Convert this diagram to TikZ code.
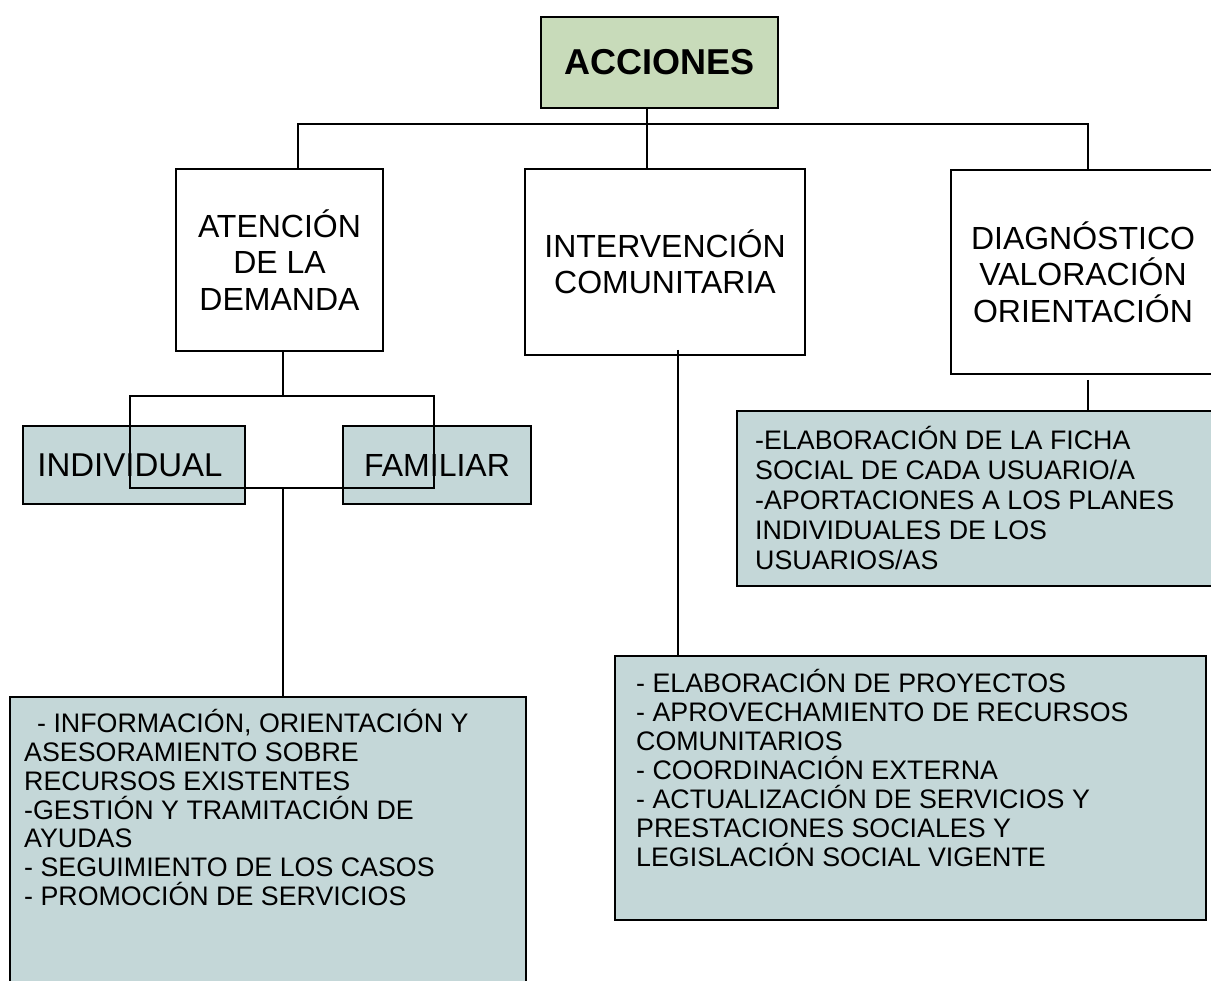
\documentclass[tikz,border=0pt]{standalone}
\usepackage{fontspec}
\setmainfont{Liberation Sans}
\definecolor{accgreen}{RGB}{200,219,186}
\definecolor{boxblue}{RGB}{196,215,216}
\tikzset{
  box/.style={draw=black, line width=1.8pt, inner sep=0pt, outer sep=0pt},
  midtext/.style={font=\fontsize{32}{36.5}\selectfont, align=center},
  listtext/.style={align=left, inner sep=0pt, anchor=north west},
  conn/.style={draw=black, line width=1.6pt}
}
\begin{document}
\begin{tikzpicture}[x=1pt,y=-1pt]
\useasboundingbox (0,0) rectangle (1211,981);
% top
\node[box, fill=accgreen, minimum width=237pt, minimum height=91pt, font=\bfseries\fontsize{36}{40}\selectfont] (acc) at (659.5,62.5) {ACCIONES};
% second level
\node[box, minimum width=207pt, minimum height=182pt, midtext] (aten) at (279.5,260) {ATENCIÓN\\DE LA\\DEMANDA};
\node[box, minimum width=280pt, minimum height=186pt, midtext] (inter) at (665,262) {INTERVENCIÓN\\COMUNITARIA};
\node[box, minimum width=264pt, minimum height=204pt, midtext] (diag) at (1083,272) {DIAGNÓSTICO\\VALORACIÓN\\ORIENTACIÓN};
% third level
\node[box, fill=boxblue, minimum width=222pt, minimum height=78pt, font=\fontsize{33}{37}\selectfont] (indiv) at (134,465) {INDIVIDUAL\kern8pt};
\node[box, fill=boxblue, minimum width=188pt, minimum height=78pt, font=\fontsize{32}{36.5}\selectfont] (fam) at (437,465) {FAMILIAR};
% list boxes
\node[box, fill=boxblue, minimum width=516pt, minimum height=293pt] (bl) at (268,843.5) {};
\node[box, fill=boxblue, minimum width=591pt, minimum height=264pt] (bm) at (910.5,788) {};
\node[box, fill=boxblue, minimum width=479pt, minimum height=175pt] (rb) at (976.5,498.5) {};
% list texts
\node[listtext, font=\fontsize{26.8}{28.7}\selectfont] (bltext) at (24,709.5) {\rule{0pt}{22pt}\hspace*{13pt}- INFORMACIÓN, ORIENTACIÓN Y\\ASESORAMIENTO SOBRE\\RECURSOS EXISTENTES\\-GESTIÓN Y TRAMITACIÓN DE\\AYUDAS\\- SEGUIMIENTO DE LOS CASOS\\- PROMOCIÓN DE SERVICIOS};
\node[listtext, font=\fontsize{26.8}{29}\selectfont] (bmtext) at (636,669.5) {\rule{0pt}{22pt}- ELABORACIÓN DE PROYECTOS\\- APROVECHAMIENTO DE RECURSOS\\COMUNITARIOS\\- COORDINACIÓN EXTERNA\\- ACTUALIZACIÓN DE SERVICIOS Y\\PRESTACIONES SOCIALES Y\\LEGISLACIÓN SOCIAL VIGENTE};
\node[listtext, font=\fontsize{26.8}{30}\selectfont] (rbtext) at (755,426) {\rule{0pt}{22pt}-ELABORACIÓN DE LA FICHA\\SOCIAL DE CADA USUARIO/A\\-APORTACIONES A LOS PLANES\\INDIVIDUALES DE LOS\\USUARIOS/AS};
% connectors
\coordinate (busL) at (298,124);
\coordinate (busR) at (1088,124);
\draw[conn] (298,0 |- aten.north) -- (busL) -- (busR) -- (1088,0 |- diag.north);
\draw[conn] (647,0 |- acc.south) -- (647,0 |- inter.north);
\coordinate (brTL) at (130,396);
\coordinate (brBR) at (434,488);
\coordinate (brT) at (283,396);
\coordinate (brB) at (283,488);
\draw[conn] (283,0 |- aten.south) -- (brT);
\draw[conn] (brTL) rectangle (brBR);
\draw[conn] (brB) -- (283,0 |- bl.north);
\coordinate (interStart) at (678,350);
\draw[conn] (interStart) -- (678,0 |- bm.north);
\coordinate (diagStart) at (1088,380);
\draw[conn] (diagStart) -- (1088,0 |- rb.north);
\end{tikzpicture}
\end{document}
